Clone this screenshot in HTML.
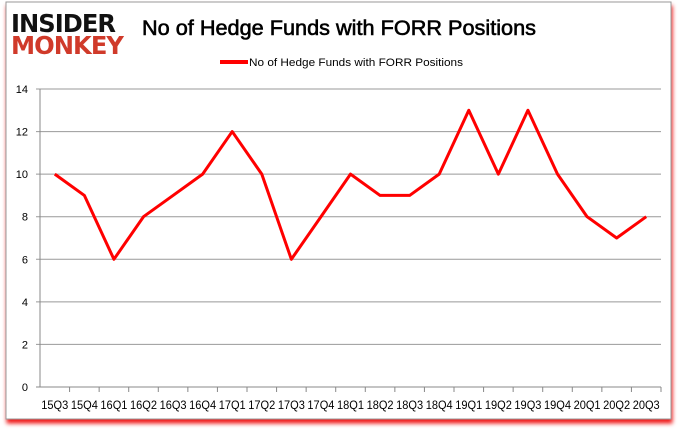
<!DOCTYPE html>
<html><head><meta charset="utf-8"><style>
body{margin:0;background:#fff;width:678px;height:431px;overflow:hidden;font-family:"Liberation Sans",sans-serif}
</style></head><body>
<svg width="678" height="431">
<defs><filter id="sh" x="-5%" y="-5%" width="110%" height="115%"><feDropShadow dx="1" dy="4" stdDeviation="2" flood-color="#e00" flood-opacity="0.9"/></filter></defs>
<rect x="6" y="2" width="665" height="417" fill="#fff" stroke="#999" filter="url(#sh)"/>
<g>
<text x="11" y="32" font-size="25" font-weight="bold" fill="#111" letter-spacing="-1" font-family="'DejaVu Sans',sans-serif" textLength="104" lengthAdjust="spacingAndGlyphs">INSIDER</text>
<text x="11" y="54" font-size="25" font-weight="bold" fill="#d03a2a" letter-spacing="-1" font-family="'DejaVu Sans',sans-serif" textLength="112" lengthAdjust="spacingAndGlyphs">MONKEY</text>
</g>
<text x="142" y="35" font-size="21" fill="#000" stroke="#000" stroke-width="0.6" textLength="394" lengthAdjust="spacingAndGlyphs">No of Hedge Funds with FORR Positions</text>
<g>
<line x1="220" y1="62" x2="248" y2="62" stroke="#f00" stroke-width="4"/>
<text x="249" y="66" font-size="11" fill="#000" textLength="214" lengthAdjust="spacingAndGlyphs">No of Hedge Funds with FORR Positions</text>
</g>
<g id="axes"></g>
<g id="series"></g>
</svg>
<script>
const categories=["15Q3","15Q4","16Q1","16Q2","16Q3","16Q4","17Q1","17Q2","17Q3","17Q4","18Q1","18Q2","18Q3","18Q4","19Q1","19Q2","19Q3","19Q4","20Q1","20Q2","20Q3"];
const values=[10,9,6,8,9,10,12,10,6,8,10,9,9,10,13,10,13,10,8,7,8];
const yTicks=[0,2,4,6,8,10,12,14];
const NS="http://www.w3.org/2000/svg";
const L=40,R=661,T=89,B=387,yMax=14;
const bw=(R-L)/categories.length;
const x=i=>L+bw*(i+0.5);
const y=v=>B-(v/yMax)*(B-T);
function mk(tag,attrs,parent){const e=document.createElementNS(NS,tag);for(const k in attrs)e.setAttribute(k,attrs[k]);parent.appendChild(e);return e;}
const ax=document.getElementById('axes');
yTicks.forEach(t=>{
 const g=mk('line',{x1:L-4,x2:R,y1:y(t),y2:y(t),stroke:t===0?'#888':'#999','stroke-width':1},ax);
 
 
 const tx=mk('text',{x:L-12,y:y(t)+4,'text-anchor':'end','font-size':11,fill:'#000'},ax);
 tx.textContent=t;
 
 
});
const ya=mk('line',{x1:L,x2:L,y1:T,y2:B,stroke:'#888'},ax);


categories.forEach((c,i)=>{
 const tk=mk('line',{x1:L+bw*(i+1),x2:L+bw*(i+1),y1:B,y2:B+5,stroke:'#888'},ax);
 
 
 const tx=mk('text',{x:x(i),y:409,'text-anchor':'middle','font-size':11.5,fill:'#000',textLength:27,lengthAdjust:'spacingAndGlyphs'},ax);
 tx.textContent=c;
 
 
});
const p=mk('polyline',{points:values.map((v,i)=>x(i)+','+y(v)).join(' '),fill:'none',stroke:'#f00','stroke-width':3,'stroke-linejoin':'round'},document.getElementById('series'));


</script>
</body></html>
